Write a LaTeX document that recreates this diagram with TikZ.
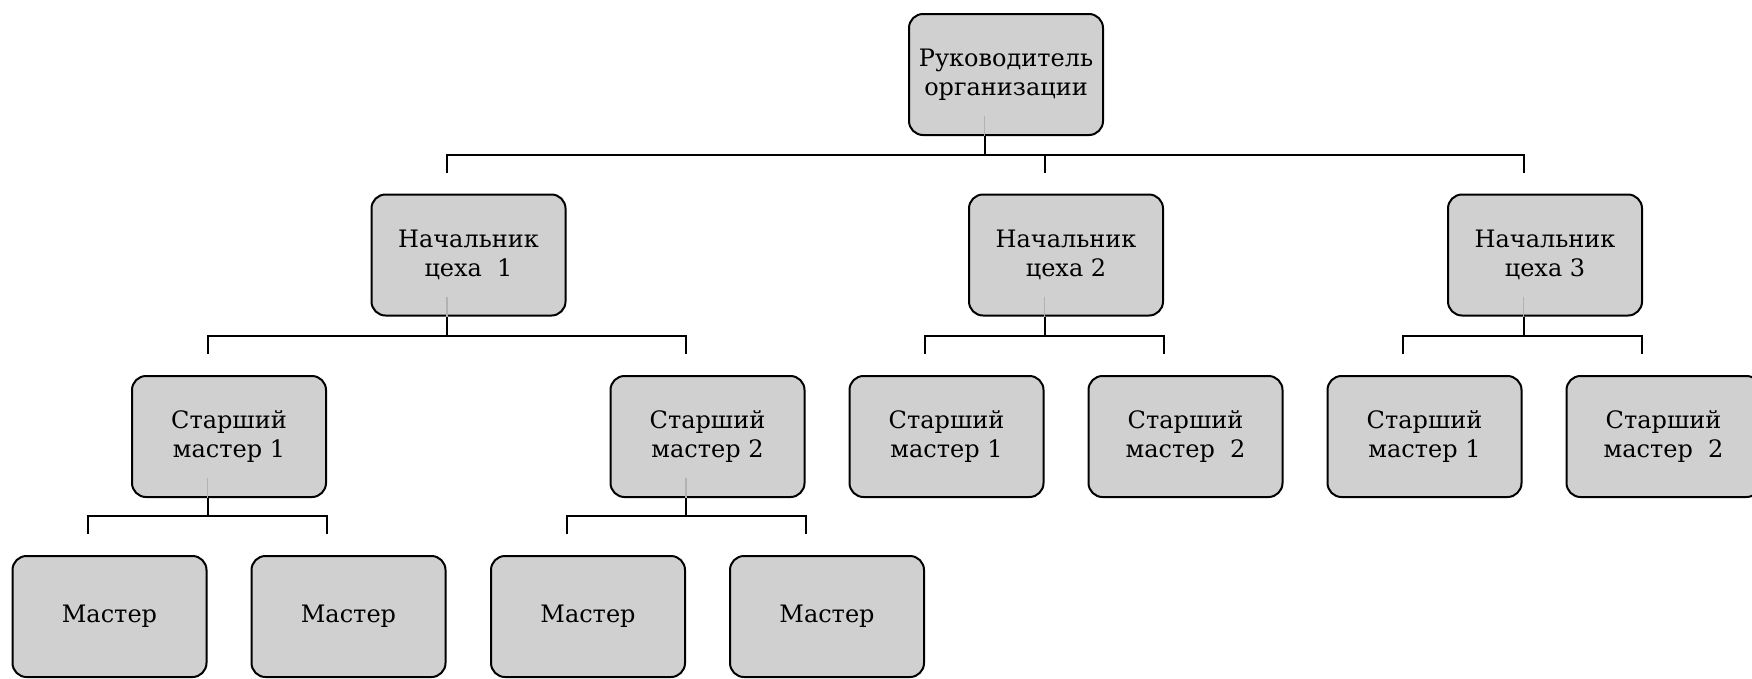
\documentclass[tikz,border=0pt]{standalone}
\usepackage{fontspec}
\setmainfont{DejaVu Serif}
\usetikzlibrary{positioning}

\definecolor{boxgray}{RGB}{208,208,208}
\definecolor{stemgray}{RGB}{178,178,178}

\begin{document}
\begin{tikzpicture}[
  x=1pt, y=-1pt,
  font=\fontsize{24}{28.5}\selectfont,
  unit/.style={draw,line width=2pt,rounded corners=14pt,fill=boxgray,align=center,minimum width=194pt,minimum height=121pt,inner sep=0pt},
  link/.style={line width=2pt},
  inlink/.style={line width=1.5pt,stemgray},
  node distance=57pt and 43pt
]
\clip (0,0) rectangle (1752,678);

\node[unit] at (1006,74.5) (boss) {Руководитель\\организации};

\node[unit] at (468.5,255) (head1) {Начальник\\цеха~~1};
\node[unit] at (1066,255) (head2) {Начальник\\цеха 2};
\node[unit] at (1545,255) (head3) {Начальник\\цеха 3};

\node[unit] at (229,436.5) (senior11) {Старший\\мастер 1};
\node[unit] at (707.5,436.5) (senior12) {Старший\\мастер 2};
\node[unit,right=of senior12] (senior21) {Старший\\мастер 1};
\node[unit,right=of senior21] (senior22) {Старший\\мастер~~2};
\node[unit,right=of senior22] (senior31) {Старший\\мастер 1};
\node[unit,right=of senior31] (senior32) {Старший\\мастер~~2};

\node[unit] at (109.5,616.5) (master1) {Мастер};
\node[unit,right=of master1] (master2) {Мастер};
\node[unit] at (588,616.5) (master3) {Мастер};
\node[unit,right=of master3] (master4) {Мастер};

% stems inside the boxes
\draw[inlink] ([xshift=-21.5pt,yshift=20pt]boss.south) -- ([xshift=-21.5pt]boss.south);
\draw[inlink] ([xshift=-21.5pt,yshift=20pt]head1.south) -- ([xshift=-21.5pt]head1.south);
\draw[inlink] ([xshift=-21.5pt,yshift=20pt]head2.south) -- ([xshift=-21.5pt]head2.south);
\draw[inlink] ([xshift=-21.5pt,yshift=20pt]head3.south) -- ([xshift=-21.5pt]head3.south);
\draw[inlink] ([xshift=-21.5pt,yshift=20pt]senior11.south) -- ([xshift=-21.5pt]senior11.south);
\draw[inlink] ([xshift=-21.5pt,yshift=20pt]senior12.south) -- ([xshift=-21.5pt]senior12.south);

% boss -> heads
\draw[link] ([xshift=-21.5pt]boss.south) -- ++(0,18);
\draw[link] ([xshift=-21.5pt,yshift=21pt]head1.north) -- ++(0,-18) -| ([xshift=-21.5pt,yshift=21pt]head3.north);
\draw[link] ([xshift=-21.5pt,yshift=21pt]head2.north) -- ++(0,-18);

% heads -> senior masters
\draw[link] ([xshift=-21.5pt]head1.south) -- ++(0,18);
\draw[link] ([xshift=-21.5pt,yshift=21pt]senior11.north) -- ++(0,-18) -| ([xshift=-21.5pt,yshift=21pt]senior12.north);
\draw[link] ([xshift=-21.5pt]head2.south) -- ++(0,18);
\draw[link] ([xshift=-21.5pt,yshift=21pt]senior21.north) -- ++(0,-18) -| ([xshift=-21.5pt,yshift=21pt]senior22.north);
\draw[link] ([xshift=-21.5pt]head3.south) -- ++(0,18);
\draw[link] ([xshift=-21.5pt,yshift=21pt]senior31.north) -- ++(0,-18) -| ([xshift=-21.5pt,yshift=21pt]senior32.north);

% senior masters -> masters
\draw[link] ([xshift=-21.5pt]senior11.south) -- ++(0,18);
\draw[link] ([xshift=-21.5pt,yshift=21pt]master1.north) -- ++(0,-18) -| ([xshift=-21.5pt,yshift=21pt]master2.north);
\draw[link] ([xshift=-21.5pt]senior12.south) -- ++(0,18);
\draw[link] ([xshift=-21.5pt,yshift=21pt]master3.north) -- ++(0,-18) -| ([xshift=-21.5pt,yshift=21pt]master4.north);
\end{tikzpicture}
\end{document}
